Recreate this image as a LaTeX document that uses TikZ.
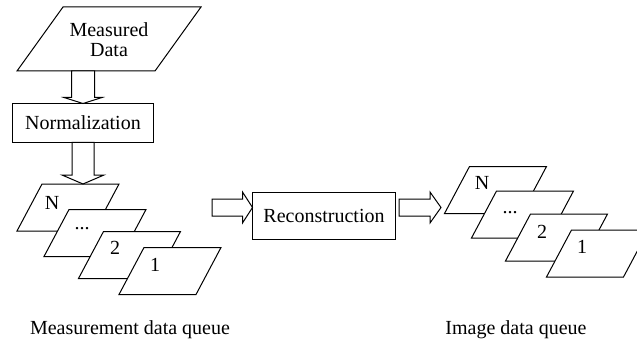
\documentclass[tikz,border=0pt]{standalone}
\usepackage{fontspec}
\setmainfont{Liberation Serif}
\usetikzlibrary{calc}

% hollow block arrow pointing down: from point #1 to the y of point #2
% #3 shaft half width, #4 head half width, #5 head length (pt)
\newcommand\blockdown[5]{%
  \draw[hollow] let \p1=(#1), \p2=(#2) in
    (\x1-#3pt,\y1) -- (\x1-#3pt,\y2+#5pt) -- (\x1-#4pt,\y2+#5pt) -- (\x1,\y2)
    -- (\x1+#4pt,\y2+#5pt) -- (\x1+#3pt,\y2+#5pt) -- (\x1+#3pt,\y1) -- cycle;}
% hollow block arrow pointing right: from point #1 to the x of point #2
\newcommand\blockright[5]{%
  \draw[hollow] let \p1=(#1), \p2=(#2) in
    (\x1,\y1+#3pt) -- (\x2-#5pt,\y1+#3pt) -- (\x2-#5pt,\y1+#4pt) -- (\x2,\y1)
    -- (\x2-#5pt,\y1-#4pt) -- (\x2-#5pt,\y1-#3pt) -- (\x1,\y1-#3pt) -- cycle;}
% slanted data sheet: name, centre, full width, height, slant
\newcommand\sheet[5]{%
  \node[sheetbox, minimum width=#3, minimum height=#4] (#1) at (#2) {};
  \draw[line] (#1.south west) -- ($(#1.north west)+(#5,0)$) -- (#1.north east)
    -- ($(#1.south east)+(-#5,0)$) -- cycle;}

\begin{document}
\begin{tikzpicture}[x=1pt, y=-1pt,
  every node/.style={font=\fontsize{20}{20}\selectfont},
  line/.style={draw=black, line width=1pt, fill=white, line join=miter},
  hollow/.style={line},
  sheetbox/.style={draw=none, inner sep=0pt, outer sep=0pt},
  procbox/.style={line, inner sep=0pt, outer sep=0pt},
  tag/.style={inner sep=0pt}]
\useasboundingbox (0,0) rectangle (637,342);
\begin{scope}
\clip (0,0) rectangle (637,342);

% input data
\sheet{md}{109,39}{184}{64}{46}
\node[tag, align=center] (mdt) at (109,40) {Measured\\Data};

% normalisation step
\node[procbox, minimum width=141, minimum height=39] (norm) at (83,123) {Normalization};
\blockdown{norm.north |- md.south}{norm.north}{11.5}{19}{6}

% measurement data queue
\sheet{lqN}{68,207.5}{102}{47}{25}
\node[tag] (lqNt) at (52,203) {N};
\sheet{lqD}{95,233}{102}{47}{25}
\node[tag, anchor=base] (lqDt) at (82,229.5) {...};
\sheet{lq2}{129.5,255}{102}{47}{25}
\node[tag] (lq2t) at (115,248) {2};
\sheet{lq1}{170,271}{102}{47}{25}
\node[tag] (lq1t) at (155,265) {1};
\blockdown{norm.south}{norm.south |- lqN.north}{11}{21}{9}

% reconstruction step
\node[procbox, minimum width=143, minimum height=47] (rec) at (324,216) {Reconstruction};
\coordinate (inA) at (212,207.5);
\coordinate (outA) at (399,207.5);
\coordinate (outB) at (441,207.5);
\blockright{inA}{rec.west}{8.5}{15.5}{10}
\blockright{outA}{outB}{8.5}{15.5}{11}

% image data queue
\sheet{rqN}{495.5,190}{102}{47}{25}
\node[tag] (rqNt) at (482,183) {N};
\sheet{rqD}{522.5,214.5}{102}{47}{25}
\node[tag, anchor=base] (rqDt) at (510,213.5) {...};
\sheet{rq2}{556.5,237.5}{102}{47}{25}
\node[tag] (rq2t) at (542,232) {2};
\sheet{rq1}{597.5,253.5}{102}{47}{25}
\node[tag] (rq1t) at (582,247) {1};
\end{scope}

% captions
\node[tag] (capL) at (130,330) {Measurement data queue};
\node[tag] (capR) at (516,330) {Image data queue};
\end{tikzpicture}
\end{document}
